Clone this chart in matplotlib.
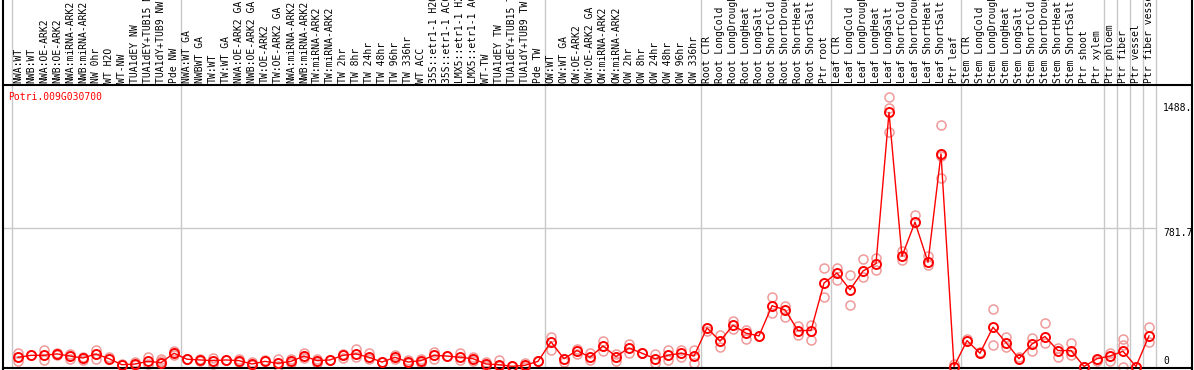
import matplotlib
matplotlib.use("Agg")
import matplotlib.pyplot as plt
from matplotlib import transforms
from matplotlib.lines import Line2D

gene = "Potri.009G030700"

labels = [
    "NWA:WT", "NWB:WT", "NWA:OE-ARK2", "NWB:OE-ARK2", "NWA:miRNA-ARK2", "NWB:miRNA-ARK2",
    "NW 0hr", "WT H2O", "WT-NW", "TUA1dEY NW", "TUA1dEY+TUB15 NW", "TUA1dY+TUB9 NW", "Pde NW",
    "NWA:WT GA", "NWBWT GA", "TW:WT", "TW:WT GA", "NWA:OE-ARK2 GA", "NWB:OE-ARK2 GA",
    "TW:OE-ARK2", "TW:OE-ARK2 GA", "NWA:miRNA-ARK2", "NWB:miRNA-ARK2", "TW:miRNA-ARK2",
    "TW:miRNA-ARK2", "TW 2hr", "TW 8hr", "TW 24hr", "TW 48hr", "TW 96hr", "TW 336hr",
    "WT ACC", "35S::etr1-1 H2O", "35S::etr1-1 ACC", "LMX5::etr1-1 H2O", "LMX5::etr1-1 ACC",
    "WT-TW", "TUA1dEY TW", "TUA1dEY+TUB15 TW", "TUA1dY+TUB9 TW", "Pde TW",
    "OW:WT", "OW:WT GA", "OW:OE-ARK2", "OW:OE-ARK2 GA", "OW:miRNA-ARK2", "OW:miRNA-ARK2",
    "OW 2hr", "OW 8hr", "OW 24hr", "OW 48hr", "OW 96hr", "OW 336hr",
    "Root CTR", "Root LongCold", "Root LongDrought", "Root LongHeat", "Root LongSalt",
    "Root ShortCold", "Root ShortDrought", "Root ShortHeat", "Root ShortSalt", "Ptr root",
    "Leaf CTR", "Leaf LongCold", "Leaf LongDrought", "Leaf LongHeat", "Leaf LongSalt",
    "Leaf ShortCold", "Leaf ShortDrought", "Leaf ShortHeat", "Leaf ShortSalt", "Ptr leaf",
    "Stem CTR", "Stem LongCold", "Stem LongDrought", "Stem LongHeat", "Stem LongSalt",
    "Stem ShortCold", "Stem ShortDrought", "Stem ShortHeat", "Stem ShortSalt",
    "Ptr shoot", "Ptr xylem", "Ptr phloem", "Ptr fiber", "Ptr vessel", "Ptr fiber vessel",
]

group_sizes = [13, 28, 12, 10, 10, 11, 1, 1, 1, 1]

means = [
    52, 63, 63, 71, 59, 48, 71, 44, 10, 14, 29, 22, 75,
    41, 37, 33, 37, 33, 14, 29, 18, 29, 59, 33, 37, 63, 71, 52, 25, 52, 25, 33,
    63, 59, 52, 44, 14, 10, 1, 7, 29,
    139, 44, 90, 52, 116, 56, 105, 75, 44, 63, 75, 59,
    218, 143, 233, 188, 173, 343, 320, 203, 203, 471,
    528, 433, 539, 581, 1434, 622, 815, 588, 1200, 0,
    146, 75, 222, 135, 44, 127, 169, 90, 90, 0, 44,
    59, 86, 0, 173,
]

reps = [
    [75, 29], [63], [93, 37], [78, 63], [71, 41], [56, 37], [93, 41], [52], [14], [25, 7],
    [52, 14], [44, 29], [86, 63],
    [44], [41, 29], [48, 14], [37], [44, 25], [25, 7], [37], [41, 3], [41, 22],
    [78, 48], [44, 22], [37], [71, 48], [97, 52], [75, 44], [25], [67, 41], [37, 18],
    [44, 18], [82, 44], [59], [75, 37], [56, 33], [25, 3], [37, 3], [1], [22, 0], [29],
    [169, 93], [25], [101, 71], [75, 37], [143, 90], [71, 33], [127, 78], [75],
    [71, 22], [93, 37], [93, 56], [93, 18],
    [199], [180, 112], [259, 211], [207, 154], [173], [395, 301], [343, 279],
    [229, 180], [237, 150], [554, 395],
    [554, 490], [517, 347], [607, 505], [615, 547], [1519, 1457, 1324], [653, 599],
    [853], [622, 573], [1362, 1189, 1064], [14],
    [157], [82], [324, 124], [165, 109], [56], [161, 90], [245, 135], [105, 56],
    [135, 63], [0], [33],
    [78, 33], [157, 120, 0], [0], [222, 139],
]

ytick_vals = [0, 781.7, 1488]
ytick_text = ["0", "781.7", "1488."]

W, H = 1194, 370
left_px, right_px, top_px, bottom_px = 3, 1192, 85, 368
zero_px = 366.5
grid_px = 228.0
mono = "DejaVu Sans Mono"

fig = plt.figure(figsize=(W / 100, H / 100), dpi=100)
ax = fig.add_axes([left_px / W, (H - bottom_px) / H,
                   (right_px - left_px) / W, (bottom_px - top_px) / H])

# column i sits at pixel 18 + 13*i
ax.set_xlim((left_px - 18) / 13, (right_px - 18) / 13)
per_px = ytick_vals[1] / (zero_px - grid_px)
ax.set_ylim(-(bottom_px - zero_px) * per_px, (zero_px - top_px) * per_px)

ax.set_xticks([])
ax.set_yticks([])
for s in ["left", "right"]:
    ax.spines[s].set_visible(False)
for s in ["top", "bottom"]:
    ax.spines[s].set_linewidth(1.5)

# group separators
ext = bottom_px / (bottom_px - top_px)
bounds = [-0.5]
for g in group_sizes:
    bounds.append(bounds[-1] + g)
for b in bounds:
    ax.axvline(b, 0, ext, color="#c8c8c8", lw=1, clip_on=False, zorder=0)
ax.hlines(ytick_vals[1], ax.get_xlim()[0], bounds[-1], color="#c8c8c8", lw=1, zorder=0)

# outer frame lines running full height
for xp in [left_px, right_px]:
    fig.add_artist(Line2D([xp / W, xp / W], [0, 1], color="black", lw=1.5))

x = list(range(len(means)))
for i, r in enumerate(reps):
    ax.plot([i] * len(r), r, "o", mfc="none", mec="#f09a9a", ms=6.5, mew=1.1,
            clip_on=False, zorder=2)
ax.plot(x, means, color="red", lw=1, zorder=3)
ax.plot(x, means, "o", mfc="none", mec="red", ms=6.5, mew=1.4, clip_on=False, zorder=4)

for i, lab in enumerate(labels):
    ax.annotate(lab, xy=(i, 1), xycoords=("data", "axes fraction"),
                xytext=(0, 2), textcoords="offset pixels", rotation=90,
                ha="center", va="bottom", fontsize=7, family=mono,
                annotation_clip=False)

tr = transforms.blended_transform_factory(ax.transAxes, ax.transData)
tx = (1163 - left_px) / (right_px - left_px)
for v, t in zip(ytick_vals, ytick_text):
    ax.text(tx, v, t, transform=tr, ha="left",
            va="bottom" if v == 0 else "top", fontsize=7, family=mono)

ax.text((8 - left_px) / (right_px - left_px), 1 - (97 - top_px) / (bottom_px - top_px),
        gene, transform=ax.transAxes, color="red", fontsize=7, family=mono,
        ha="left", va="center")

fig.savefig("out.png", dpi=100)
